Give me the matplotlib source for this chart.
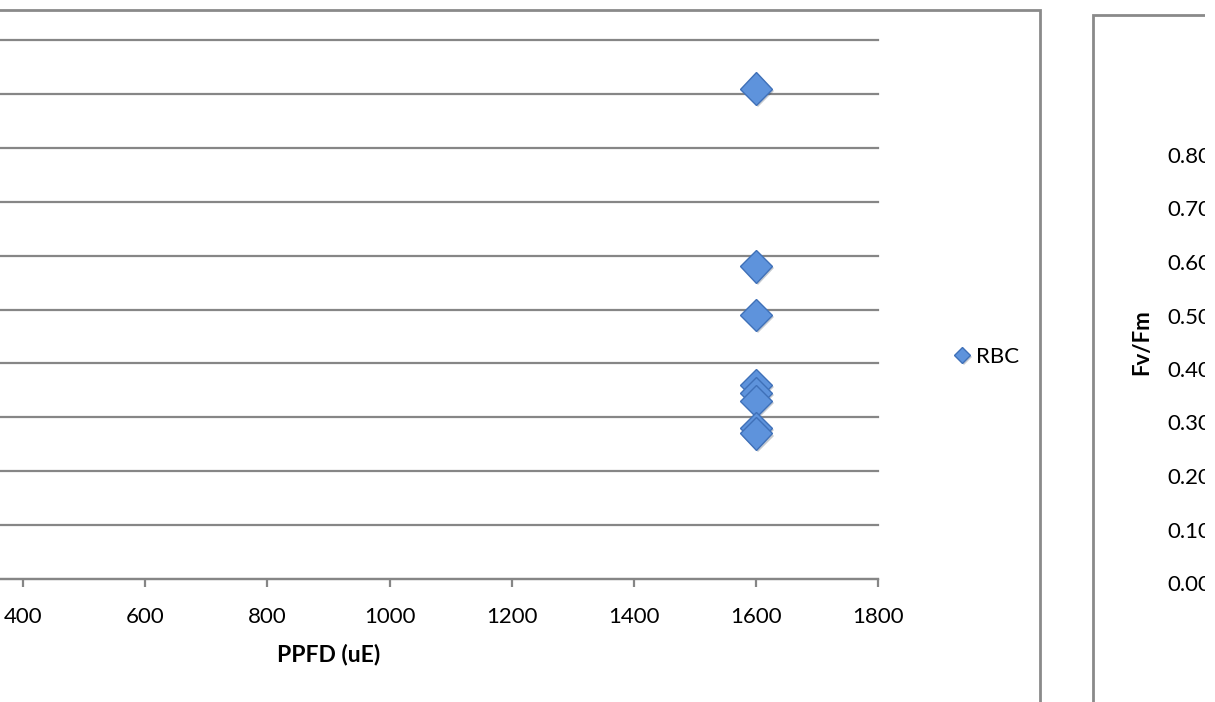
import matplotlib
matplotlib.use("Agg")
import matplotlib.pyplot as plt
from matplotlib.patches import Rectangle
import matplotlib.patheffects as pe

plt.rcParams['font.family'] = ['Lato', 'DejaVu Sans']

# data
ppfd = [1600, 1600, 1600, 1600, 1600, 1600, 1600, 1600]
fvfm = [0.91, 0.58, 0.49, 0.36, 0.345, 0.33, 0.28, 0.27]
series_name = "RBC"
x_ticks = [0, 200, 400, 600, 800, 1000, 1200, 1400, 1600, 1800]
y_ticks = [0.0, 0.1, 0.2, 0.3, 0.4, 0.5, 0.6, 0.7, 0.8, 0.9, 1.0]
right_ticks = [0.0, 0.1, 0.2, 0.3, 0.4, 0.5, 0.6, 0.7, 0.8]

W, H = 1215, 702
grey = '#868686'
face = '#5e93dc'
edge = '#3f70b8'


def px_box(x0, y_top, x1, y_bot):
    # pixel box (from top-left) -> figure fraction rect
    return [x0 / W, (H - y_bot) / H, (x1 - x0) / W, (y_bot - y_top) / H]


fig = plt.figure(figsize=(W / 100, H / 100), dpi=100)

# left chart (partly cut off at the left edge)
ax = fig.add_axes(px_box(-221, 40, 878, 579))
ax.plot(ppfd, fvfm, linestyle='none', marker='D', markersize=16.5,
        markerfacecolor=face, markeredgecolor=edge, markeredgewidth=1.0,
        label=series_name,
        path_effects=[pe.SimplePatchShadow(offset=(1.5, -1.5), alpha=0.25), pe.Normal()])
ax.set_xlim(0, 1800)
ax.set_ylim(0, 1.0)
ax.set_xticks(x_ticks)
ax.set_yticks(y_ticks)
ax.yaxis.grid(True, color=grey, linewidth=1.6, clip_on=False)
ax.set_axisbelow(True)
for s in ['top', 'right', 'left']:
    ax.spines[s].set_visible(False)
ax.spines['bottom'].set_color(grey)
ax.spines['bottom'].set_linewidth(1.6)
ax.tick_params(axis='x', direction='out', length=5.5, width=1.6, color=grey,
               labelsize=16, pad=15)
ax.tick_params(axis='y', left=False, labelleft=False)
ax.set_xlabel("PPFD (uE)", fontsize=16.5, fontweight='bold', labelpad=12)

ax.legend(loc='center left', bbox_to_anchor=(940 / W, (H - 357) / H),
          bbox_transform=fig.transFigure, frameon=False, fontsize=16,
          markerscale=0.5, handlelength=1.0, handletextpad=0.1, borderpad=0)

# right chart, only its y axis part is visible
ax2 = fig.add_axes(px_box(1225, 155, 1400, 583))
ax2.set_ylim(0, 0.8)
ax2.set_yticks(right_ticks)
ax2.set_yticklabels([f"{v:.2f}" for v in right_ticks])
ax2.set_xticks([])
for s in ax2.spines.values():
    s.set_visible(False)
ax2.tick_params(axis='y', length=0, labelsize=16, pad=10)
ax2.set_ylabel("Fv/Fm", fontsize=16, fontweight='bold')
ax2.yaxis.set_label_coords((1152 - 1225) / 175, (583 - 342) / 428)

# chart area frames
fig.patches.append(Rectangle((-20 / W, -0.1), 1040 / W + 20 / W, (H - 10) / H + 0.1,
                             transform=fig.transFigure, fill=False,
                             edgecolor='#8a8a8a', linewidth=2.0, zorder=5))
fig.patches.append(Rectangle((1093 / W, -0.1), 0.2, (H - 15) / H + 0.1,
                             transform=fig.transFigure, fill=False,
                             edgecolor='#8a8a8a', linewidth=2.0, zorder=5))
# the right chart is clipped a little before the image edge
fig.patches.append(Rectangle((1205 / W, 0), 0.1, 1, transform=fig.transFigure,
                             facecolor='white', edgecolor='none', zorder=10))

fig.savefig("out.png", dpi=100)
